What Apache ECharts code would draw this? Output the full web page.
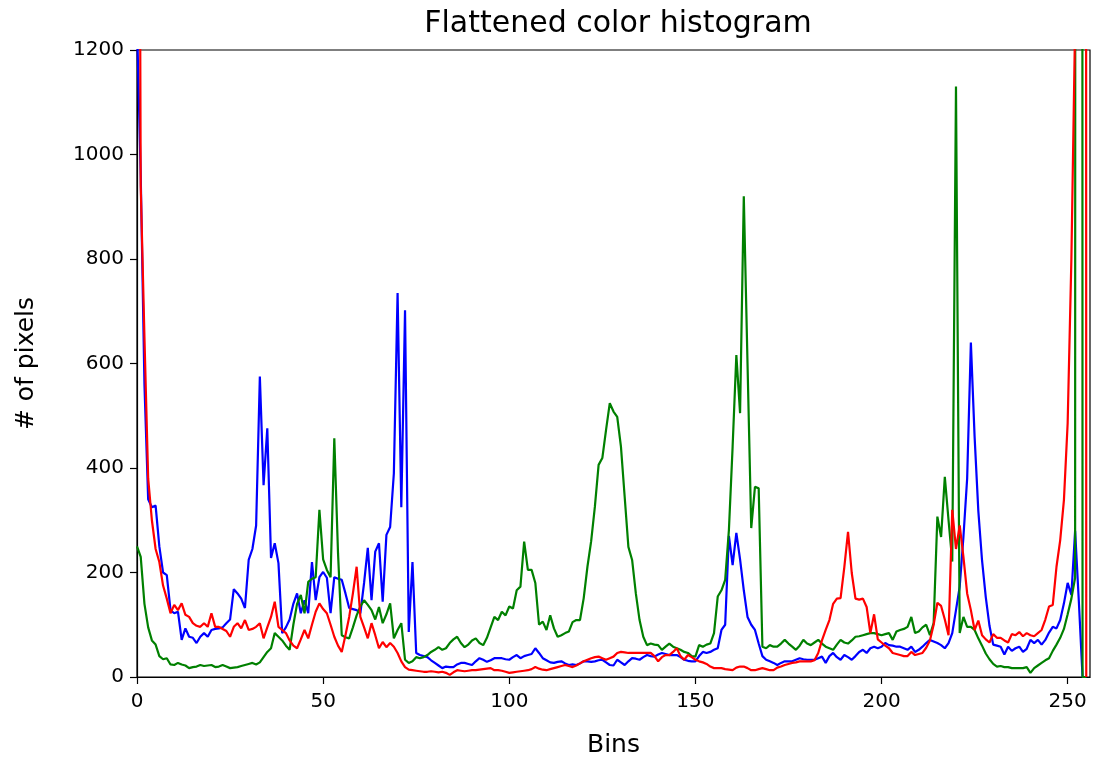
<!DOCTYPE html>
<html>
<head>
<meta charset="utf-8">
<script src="https://cdn.jsdelivr.net/npm/echarts@6/dist/echarts.min.js"></script>
<style>
html,body{margin:0;padding:0;background:#fff;}
#chart{width:1096px;height:759px;}
</style>
</head>
<body>
<div id="chart"></div>
<script>
const xTicks = [0, 50, 100, 150, 200, 250];
const yTicks = [0, 200, 400, 600, 800, 1000, 1200];

const blueCounts = [
1250,960,560,340,325,328,250,200,195,128,122,125,71,93,77,75,
65,77,84,77,90,92,93,95,103,110,168,160,150,132,224,245,
290,575,367,476,228,256,218,84,95,110,140,160,122,147,122,220,
147,191,201,190,122,191,188,186,160,132,130,128,122,180,247,147,
240,256,144,272,287,390,735,325,702,86,220,46,42,40,38,32,
27,22,17,20,19,19,24,27,27,25,23,30,36,33,29,32,
36,36,36,34,33,38,42,36,40,42,44,55,46,36,32,28,
27,29,30,26,23,24,23,26,30,30,29,30,32,33,28,23,
22,33,28,23,30,36,35,33,38,42,40,39,43,46,44,42,
42,42,38,33,31,30,30,40,48,46,48,52,55,90,100,270,
214,276,225,166,115,100,90,64,40,33,30,27,23,27,30,30,
30,33,36,34,33,33,33,36,39,27,40,46,38,33,42,38,
33,40,48,52,46,55,58,55,58,65,61,60,58,58,55,52,
58,48,52,58,65,71,68,65,61,55,65,84,128,173,268,380,
640,460,318,223,153,98,62,60,58,43,58,50,55,58,48,54,
71,65,71,62,71,85,96,93,109,141,180,157,280,145,0,0
];

const greenCounts = [
250,230,140,95,70,62,40,34,36,24,23,27,24,22,17,19,
20,23,21,22,23,19,20,23,20,17,18,19,21,23,25,27,
24,28,38,48,55,84,77,70,60,52,100,140,157,122,182,188,
191,320,225,205,191,457,237,80,76,74,95,118,135,147,138,128,
110,134,103,120,141,74,90,103,33,27,30,38,36,38,42,48,
52,57,52,55,65,72,77,65,57,62,70,74,65,61,75,95,
115,109,125,118,135,131,166,173,259,205,205,180,100,106,90,118,
93,77,80,84,87,105,109,109,151,211,260,326,406,419,473,524,
508,498,441,345,249,224,160,109,77,61,64,62,61,52,58,64,
58,55,52,48,46,40,39,61,58,62,64,84,154,166,186,281,
441,616,505,920,600,285,364,361,58,55,61,58,58,64,71,64,
58,52,60,71,64,61,66,71,64,58,55,52,62,71,66,64,
70,77,78,80,82,84,84,82,80,82,84,71,87,90,92,96,
115,84,87,95,100,80,103,307,268,383,300,221,1130,84,115,96,
96,90,74,60,45,34,25,20,21,19,19,17,17,17,17,19,
8,17,22,27,32,36,50,62,75,92,120,150,190,30000,0,0
];

const redCounts = [
3000,940,650,380,300,245,220,175,150,122,138,128,141,119,115,103,
98,96,103,96,122,96,96,92,88,77,96,103,93,109,90,92,
96,103,74,95,115,144,96,90,84,70,60,55,72,90,74,100,
125,141,130,122,100,77,60,48,80,115,160,211,115,95,74,103,
80,55,67,57,65,58,46,30,19,14,13,12,11,10,10,11,
10,9,10,8,4,9,13,12,11,12,13,13,14,15,16,17,
13,13,12,10,8,9,10,11,12,13,15,19,16,14,13,15,
17,19,21,23,21,19,22,26,30,33,36,38,39,36,33,36,
39,46,48,47,46,46,46,46,46,46,46,40,30,38,42,42,
48,55,40,33,42,38,33,30,28,25,20,17,17,17,15,14,
13,18,20,20,17,13,13,15,17,15,13,13,18,20,23,25,
27,28,30,30,30,30,32,46,70,90,109,140,150,151,210,278,
199,150,148,150,134,84,120,72,66,60,55,46,44,42,40,40,
48,42,44,46,56,70,100,142,136,110,80,320,245,290,230,160,
128,90,108,80,72,66,82,75,75,70,66,82,80,86,78,84,
80,78,84,90,110,135,138,211,262,339,486,800,1250,4000,30000,0
];

function toPairs(arr){ return arr.map((v,i)=>[i,v]); }

const font = 'DejaVu Sans';
const chart = echarts.init(document.getElementById('chart'), null, {renderer:'canvas'});
chart.setOption({
  animation: false,
  backgroundColor: '#ffffff',
  title: {
    text: 'Flattened color histogram',
    left: 613,
    textAlign: 'center',
    top: 4,
    textStyle: {fontFamily: font, fontSize: 30, fontWeight: 'normal', color: '#000'}
  },
  grid: {
    left: 137, right: 6, top: 50, bottom: 82,
    containLabel: false,
    outerBoundsMode: 'none',
    show: true, borderColor: '#000', borderWidth: 1.2, backgroundColor: '#fff'
  },
  xAxis: {
    type: 'value',
    min: xTicks[0], max: 256, interval: 50,
    name: 'Bins', nameLocation: 'middle', nameGap: 56,
    nameTextStyle: {fontFamily: font, fontSize: 25, color: '#000'},
    axisLine: {show: true, lineStyle: {color: '#000', width: 1.2}},
    axisTick: {show: true, inside: false, length: 7, lineStyle: {color: '#000', width: 1.2}},
    axisLabel: {fontFamily: font, fontSize: 20, color: '#000', margin: 15, showMaxLabel: false,
      formatter: v => xTicks.includes(v) ? String(v) : ''},
    splitLine: {show: false}
  },
  yAxis: {
    type: 'value',
    min: yTicks[0], max: yTicks[yTicks.length-1], interval: 200,
    name: '# of pixels', nameLocation: 'middle', nameGap: 98, nameRotate: 90,
    nameTextStyle: {fontFamily: font, fontSize: 25, color: '#000'},
    axisLine: {show: true, lineStyle: {color: '#000', width: 1.2}},
    axisTick: {show: true, inside: false, length: 7, lineStyle: {color: '#000', width: 1.2}},
    axisLabel: {fontFamily: font, fontSize: 20, color: '#000', margin: 13,
      formatter: v => String(v)},
    splitLine: {show: false}
  },
  series: [
    {name: 'b', type: 'line', data: toPairs(blueCounts), showSymbol: false, clip: true,
     lineStyle: {color: '#0000ff', width: 2.2}, itemStyle: {color: '#0000ff'}},
    {name: 'g', type: 'line', data: toPairs(greenCounts), showSymbol: false, clip: true,
     lineStyle: {color: '#008000', width: 2.2}, itemStyle: {color: '#008000'}},
    {name: 'r', type: 'line', data: toPairs(redCounts), showSymbol: false, clip: true,
     lineStyle: {color: '#ff0000', width: 2.2}, itemStyle: {color: '#ff0000'}}
  ]
});
</script>
</body>
</html>
